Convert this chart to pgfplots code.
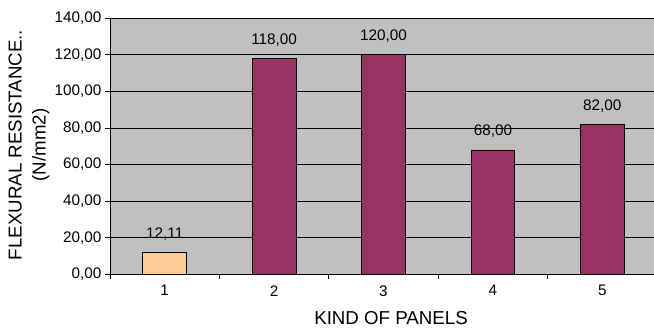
\documentclass[border=0pt]{standalone}
\usepackage{fontspec}
\setmainfont{Liberation Sans}
\usepackage{pgfplots}
\pgfplotsset{compat=1.18}
\definecolor{plotgray}{HTML}{C0C0C0}
\definecolor{peach}{HTML}{FFCC99}
\definecolor{plum}{HTML}{993366}
\newcommand{\tickfont}{\fontsize{15.3}{17}\selectfont}
\newcommand{\titlefont}{\fontsize{18.7}{24}\selectfont}
\begin{document}
\begin{tikzpicture}
\useasboundingbox (0pt,0pt) rectangle (654pt,329pt);
\begin{axis}[
  at={(110pt,54.7pt)}, anchor=south west,
  scale only axis, width=547pt, height=256pt,
  xmin=0.5, xmax=5.5, ymin=0, ymax=140,
  axis background/.style={fill=plotgray},
  axis lines*=left,
  axis line style={black, line width=0.8pt, -},
  ymajorgrids, major grid style={black, line width=0.8pt},
  tick align=outside, major tick length=5pt,
  tick style={black, line width=0.8pt},
  ytick={0,20,...,140},
  xtick={0.5,1.5,2.5,3.5,4.5,5.5},
  xticklabels={1,2,3,4,5,},
  xticklabel style={xshift=54.7pt, yshift=-2.5pt, font=\tickfont},
  yticklabel style={font=\tickfont},
  /pgf/number format/.cd, fixed, fixed zerofill, precision=2, use comma, assume math mode=true,
  /pgfplots/.cd,
  xlabel={KIND OF PANELS},
  xlabel style={at={(axis description cs:0.5,0)}, anchor=center, yshift=-44pt, xshift=7.5pt, font=\titlefont},
  ylabel={FLEXURAL RESISTANCE..\\(N/mm2)},
  ylabel style={at={(axis description cs:0,0.505)}, anchor=center, yshift=81pt, align=center, font=\titlefont},
  ybar, bar width=0.4,
  nodes near coords,
  every node near coord/.style={anchor=base, yshift=14pt, font=\tickfont, black},
]
\addplot[ybar, bar shift=0pt, fill=peach, draw=black, line width=0.8pt] coordinates {(1,12.11)};
\addplot[ybar, bar shift=0pt, fill=plum, draw=black, line width=0.8pt] coordinates {(2,118) (3,120) (4,68) (5,82)};
\end{axis}
\end{tikzpicture}
\end{document}
